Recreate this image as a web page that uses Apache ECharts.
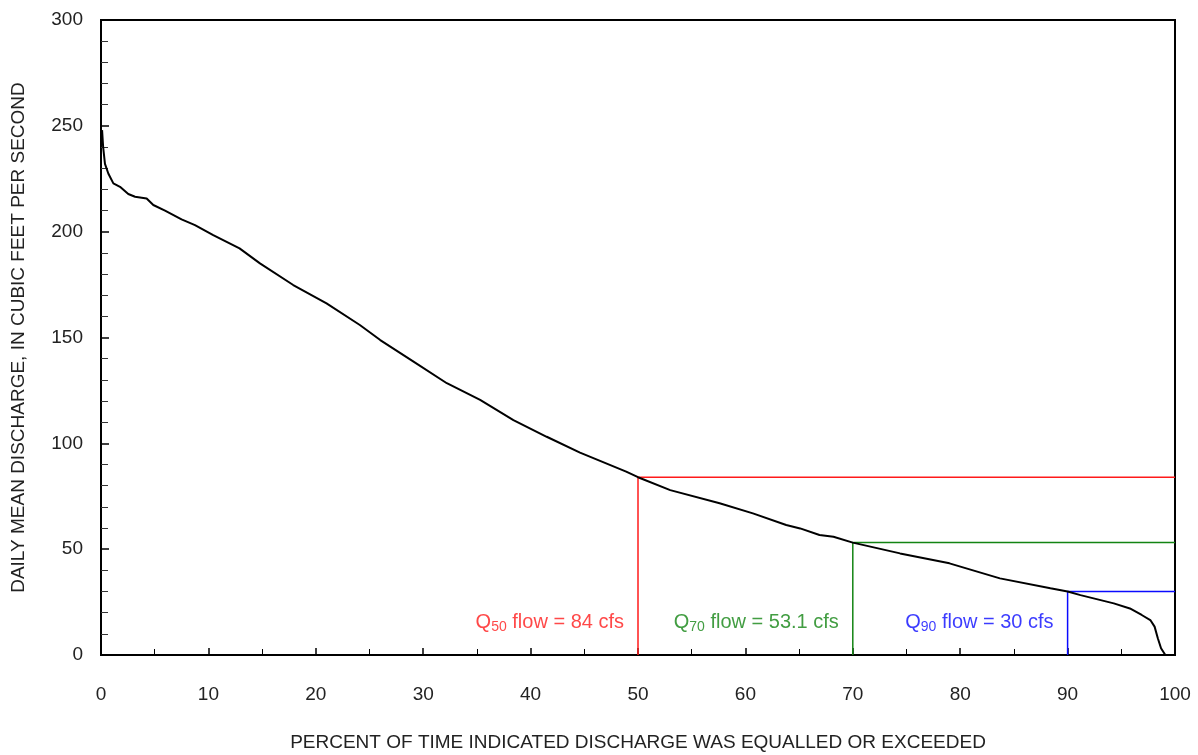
<!DOCTYPE html>
<html>
<head>
<meta charset="utf-8">
<script src="https://cdn.jsdelivr.net/npm/echarts@6/dist/echarts.min.js"></script>
<style>
html, body { margin: 0; padding: 0; background: #fff; }
#chart-panel { width: 1198px; height: 755px; }
</style>
</head>
<body>
<div id="chart-panel"></div>
<script>
// flow duration curve: percent exceeded / discharge (cfs)
var pctExceeded = [0.1, 0.2, 0.37, 0.68, 1.15, 1.77, 2.54, 3.17, 4.25, 4.87, 5.96, 7.5, 8.75, 10.45, 12.9, 14.8,
    17.9, 21, 24.1, 26, 29.1, 32.2, 35.3, 38.4, 41.5, 44.6, 48.9, 50, 53, 57.6, 60.7, 63.8, 65.1, 66.9, 68.2,
    70, 74.4, 79, 83.7, 88.4, 90, 91.2, 94.3, 95.8, 96.9, 97.7, 98.1, 98.4, 98.7, 99.1];
var discharge = [248, 240, 232, 227.5, 222.8, 221.2, 217.8, 216.5, 215.7, 212.6, 209.9, 205.8, 203.1, 198.4, 192.1, 185,
    174.8, 166.1, 155.9, 148.8, 138.6, 128.4, 120.5, 111, 103.1, 95.6, 86.6, 84, 77.9, 71.7, 66.9, 61.4, 59.8, 56.7, 55.9,
    53.1, 48, 43.3, 36.2, 31.5, 30, 28.3, 24.4, 22, 18.9, 16.5, 13.4, 7.9, 3.2, 0];

var qPercent = [50, 70, 90];
var qFlow = [84, 53.1, 30];
var qSub = ['50', '70', '90'];
var qText = ['84 cfs', '53.1 cfs', '30 cfs'];
var qColor = ['#ff1a1a', '#138413', '#0a0aff'];

var chart = echarts.init(document.getElementById('chart-panel'));
var font = '"Liberation Sans", Arial, sans-serif';

var curve = [];
for (var i = 0; i < pctExceeded.length; i++) {
    curve.push([pctExceeded[i], discharge[i]]);
}

var series = [{
    type: 'line',
    data: curve,
    symbol: 'none',
    lineStyle: { color: '#000', width: 2 },
    z: 5
}];

// reference lines and labels for Q50, Q70, Q90
for (var k = 0; k < qPercent.length; k++) {
    series.push({
        type: 'line',
        data: [[qPercent[k], 0], [qPercent[k], qFlow[k]], [100, qFlow[k]]],
        symbol: 'none',
        lineStyle: { color: qColor[k], width: 1.5 },
        z: 4
    });
    series.push({
        type: 'scatter',
        data: [[qPercent[k], 15.5]],
        symbolSize: 0,
        silent: true,
        label: {
            show: true,
            position: 'left',
            distance: 14,
            formatter: '{q|Q}{s|' + qSub[k] + '}{t| flow = ' + qText[k] + '}',
            rich: {
                q: { color: qColor[k], fontSize: 20, fontFamily: font },
                s: { color: qColor[k], fontSize: 14, fontFamily: font, padding: [10, 0, 0, 0] },
                t: { color: qColor[k], fontSize: 20, fontFamily: font }
            }
        }
    });
}

var option = {
    animation: false,
    grid: {
        left: 101, right: 23, top: 20, bottom: 100,
        outerBoundsMode: 'none',
        containLabel: false,
        show: true, borderColor: '#000', borderWidth: 2
    },
    xAxis: {
        type: 'value',
        min: 0, max: 100, interval: 10,
        name: 'PERCENT OF TIME INDICATED DISCHARGE WAS EQUALLED OR EXCEEDED',
        nameLocation: 'middle',
        nameGap: 78,
        nameTextStyle: { color: '#222', fontSize: 19, fontFamily: font },
        axisLine: { lineStyle: { color: '#000', width: 2 } },
        axisTick: { inside: true, length: 7, lineStyle: { color: '#000', width: 1.5 } },
        minorTick: { show: true, splitNumber: 2, length: 6, lineStyle: { color: '#000', width: 1 } },
        axisLabel: { color: '#222', fontSize: 19, margin: 30, fontFamily: font },
        splitLine: { show: false }
    },
    yAxis: {
        type: 'value',
        min: 0, max: 300, interval: 50,
        name: 'DAILY MEAN DISCHARGE, IN CUBIC FEET PER SECOND',
        nameLocation: 'middle',
        nameGap: 73,
        nameTextStyle: { color: '#222', fontSize: 19, fontFamily: font },
        axisLine: { show: true, lineStyle: { color: '#000', width: 2 } },
        axisTick: { show: true, inside: true, length: 8, lineStyle: { color: '#000', width: 1.5 } },
        minorTick: { show: true, splitNumber: 5, length: 7, lineStyle: { color: '#333', width: 1 } },
        axisLabel: { color: '#222', fontSize: 19, margin: 18, fontFamily: font },
        splitLine: { show: false }
    },
    series: series
};

chart.setOption(option);
</script>
</body>
</html>
